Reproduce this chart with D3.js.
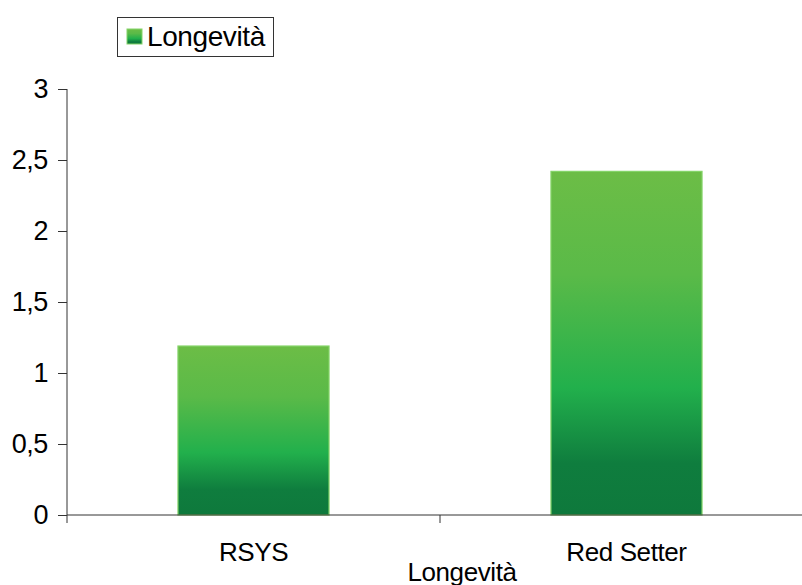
<!DOCTYPE html>
<html lang="it">
<head>
    <meta charset="UTF-8">
    <title>Longevità</title>
    <script src="https://cdn.jsdelivr.net/npm/d3@7"></script>
    <style>
        body { margin: 0; background: #fff; }
        text {
            font-family: "Liberation Sans", Arial, sans-serif;
            fill: #000;
            letter-spacing: -0.4px;
        }
        .tick text { font-size: 27px; }
        .domain, .tick line { stroke: #333; }
    </style>
</head>
<body>
<svg width="802" height="585"></svg>
<script>
    var categories = ["RSYS", "Red Setter"];
    var values = [1.19, 2.42];
    var yTicks = [0, 0.5, 1, 1.5, 2, 2.5, 3];
    var seriesName = "Longevità";
    var axisTitle = "Longevità";

    var svg = d3.select("svg");

    var x = d3.scaleBand()
        .domain(categories)
        .range([67, 813])
        .paddingInner(0.595)
        .paddingOuter(0.2975);

    var y = d3.scaleLinear().domain([0, 3]).range([515, 89]);

    // gradient used by bars and legend swatch
    var defs = svg.append("defs");
    var grad = defs.append("linearGradient")
        .attr("id", "barGrad")
        .attr("x1", 0).attr("y1", 0).attr("x2", 0).attr("y2", 1);
    [["0%", "#6cbd46"], ["30%", "#5aba48"], ["63%", "#22b04c"], ["85%", "#0f7d3e"], ["100%", "#0e793c"]]
        .forEach(function(s) {
            grad.append("stop").attr("offset", s[0]).attr("stop-color", s[1]);
        });

    svg.selectAll(".bar")
        .data(values)
        .enter()
        .append("rect")
        .attr("class", "bar")
        .attr("x", function(d, i) { return x(categories[i]); })
        .attr("width", x.bandwidth())
        .attr("y", function(d) { return y(d); })
        .attr("height", function(d) { return y(0) - y(d); })
        .attr("fill", "url(#barGrad)")
        .attr("stroke", "#84d468")
        .attr("stroke-width", 1.2);

    // y axis
    svg.append("g")
        .attr("transform", "translate(67,0)")
        .call(d3.axisLeft(y)
            .tickValues(yTicks)
            .tickSize(9)
            .tickPadding(10)
            .tickFormat(function(d) { return String(d).replace(".", ","); }))
        .call(function(g) { g.select(".domain").attr("d", "M0,89V523"); });

    // x axis: tick between categories, labels centred under bars
    var xAxis = svg.append("g").attr("transform", "translate(0,515)");
    xAxis.append("line")
        .attr("x1", 67).attr("x2", 802)
        .attr("stroke", "#333");
    xAxis.selectAll(".xt")
        .data([67 + x.step()])
        .enter()
        .append("line")
        .attr("x1", function(d) { return d; })
        .attr("x2", function(d) { return d; })
        .attr("y1", 0).attr("y2", 8)
        .attr("stroke", "#333");
    xAxis.selectAll(".xl")
        .data(categories)
        .enter()
        .append("text")
        .attr("x", function(d) { return x(d) + x.bandwidth() / 2; })
        .attr("y", 46)
        .attr("text-anchor", "middle")
        .style("font-size", "26px")
        .text(function(d) { return d; });

    svg.append("text")
        .attr("x", 462)
        .attr("y", 581)
        .attr("text-anchor", "middle")
        .style("font-size", "26px")
        .text(axisTitle);

    // legend
    var leg = svg.append("g");
    leg.append("rect")
        .attr("x", 117.5).attr("y", 17.5)
        .attr("width", 156).attr("height", 39)
        .attr("fill", "#fff")
        .attr("stroke", "#333");
    leg.append("rect")
        .attr("x", 127).attr("y", 29)
        .attr("width", 15).attr("height", 15)
        .attr("fill", "url(#barGrad)")
        .attr("stroke", "#84d468");
    leg.append("text")
        .attr("x", 147)
        .attr("y", 46)
        .style("font-size", "28px")
        .text(seriesName);
</script>
</body>
</html>
